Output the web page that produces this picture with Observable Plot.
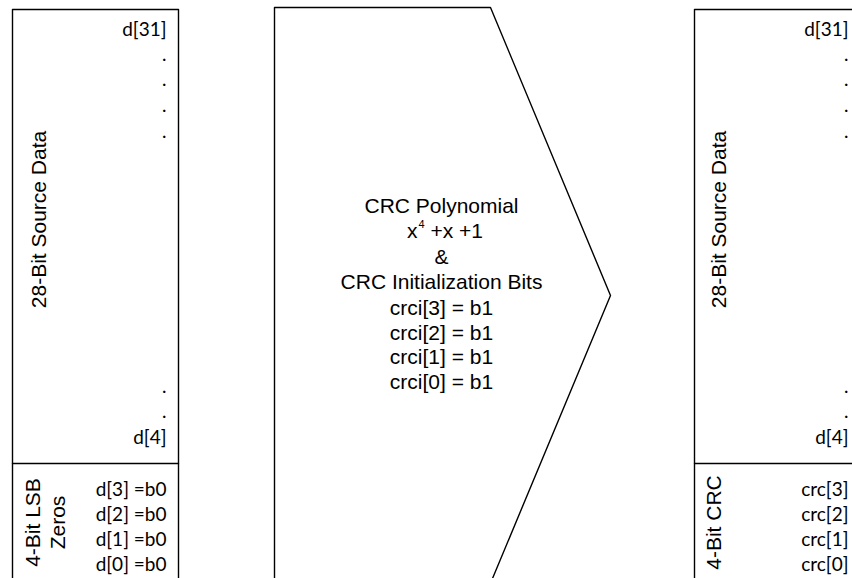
<!DOCTYPE html>
<html>
<head>
<meta charset="utf-8">
<script src="https://cdn.jsdelivr.net/npm/d3@7"></script>
<script src="https://cdn.jsdelivr.net/npm/@observablehq/plot@0.6"></script>
<style>
  html, body { margin: 0; padding: 0; background: #fff; }
  #chart svg { display: block; }
</style>
</head>
<body>
<div id="chart"></div>
<script>
// ---- diagram data ----
// outlines: [shape id, vertex list]
const outlineIds = ["sourceBox", "sourceDivider", "crcEngine", "resultBox", "resultDivider"];
const outlineVertices = [
  [[12, 578], [12, 9], [178, 9], [178, 578]],
  [[12, 463], [178, 463]],
  [[274, 578], [274, 7], [490, 7], [610, 295], [492, 578]],
  [[694, 578], [694, 9], [860, 9]],
  [[694, 463], [860, 463]]
];

// left (source) column labels
const sourceLabels = ["d[31]", ".", ".", ".", ".", ".", ".", "d[4]", "d[3] =b0", "d[2] =b0", "d[1] =b0", "d[0] =b0"];
const sourceRows   = [29, 54, 79, 105, 131, 386, 411, 437, 489, 514, 539, 564];

// right (result) column labels
const resultLabels = ["d[31]", ".", ".", ".", ".", ".", ".", "d[4]", "crc[3]", "crc[2]", "crc[1]", "crc[0]"];

// centre polynomial block
const centreLines = ["CRC Polynomial", "&", "CRC Initialization Bits", "crci[3] = b1", "crci[2] = b1", "crci[1] = b1", "crci[0] = b1"];
const centreRows  = [206, 257, 282, 308, 333, 357, 382];
const polyParts   = ["x", "4", "+x +1"];

// rotated section titles
const sectionTitles = ["28-Bit Source Data", "4-Bit LSB", "Zeros", "28-Bit Source Data", "4-Bit CRC"];
const sectionX      = [39, 33, 58, 719, 714];
const sectionY      = [219, 522, 522, 219, 522];

// ---- build tables ----
const outlines = outlineIds.flatMap((id, i) => outlineVertices[i].map(([x, y]) => ({id, x, y})));
const leftText = sourceLabels.map((t, i) => ({t, x: 166, y: sourceRows[i]}));
const rightText = resultLabels.map((t, i) => ({t, x: 848, y: sourceRows[i]}));
const centreText = centreLines.map((t, i) => ({t, x: 441, y: centreRows[i]}));
const titles = sectionTitles.map((t, i) => ({t, x: sectionX[i], y: sectionY[i]}));

const ARIAL = "'Liberation Sans', Arial, sans-serif";
const CALIBRI = "Lato, 'Open Sans', sans-serif";

const chart = Plot.plot({
  width: 852,
  height: 578,
  margin: 0,
  x: {domain: [0, 852], range: [0, 852], axis: null},
  y: {domain: [0, 578], range: [0, 578], axis: null},
  style: {background: "#fff"},
  marks: [
    Plot.line(outlines, {x: "x", y: "y", z: "id", stroke: "#000", strokeWidth: 1.4, curve: "linear"}),
    Plot.text(leftText, {x: "x", y: "y", text: "t", textAnchor: "end", fontFamily: CALIBRI, fontSize: 19, fill: "#000"}),
    Plot.text(rightText, {x: "x", y: "y", text: "t", textAnchor: "end", fontFamily: CALIBRI, fontSize: 19, fill: "#000"}),
    Plot.text(centreText, {x: "x", y: "y", text: "t", textAnchor: "middle", fontFamily: ARIAL, fontSize: 21, fill: "#000"}),
    Plot.text([{t: polyParts[0], x: 417, y: 231}], {x: "x", y: "y", text: "t", textAnchor: "end", fontFamily: ARIAL, fontSize: 21, fill: "#000"}),
    Plot.text([{t: polyParts[1], x: 418, y: 224}], {x: "x", y: "y", text: "t", textAnchor: "start", fontFamily: ARIAL, fontSize: 11, fill: "#000"}),
    Plot.text([{t: polyParts[2], x: 430, y: 231}], {x: "x", y: "y", text: "t", textAnchor: "start", fontFamily: ARIAL, fontSize: 21, fill: "#000"}),
    Plot.text(titles, {x: "x", y: "y", text: "t", rotate: -90, textAnchor: "middle", fontFamily: ARIAL, fontSize: 21, fill: "#000"})
  ]
});
document.getElementById("chart").appendChild(chart);
</script>
</body>
</html>
